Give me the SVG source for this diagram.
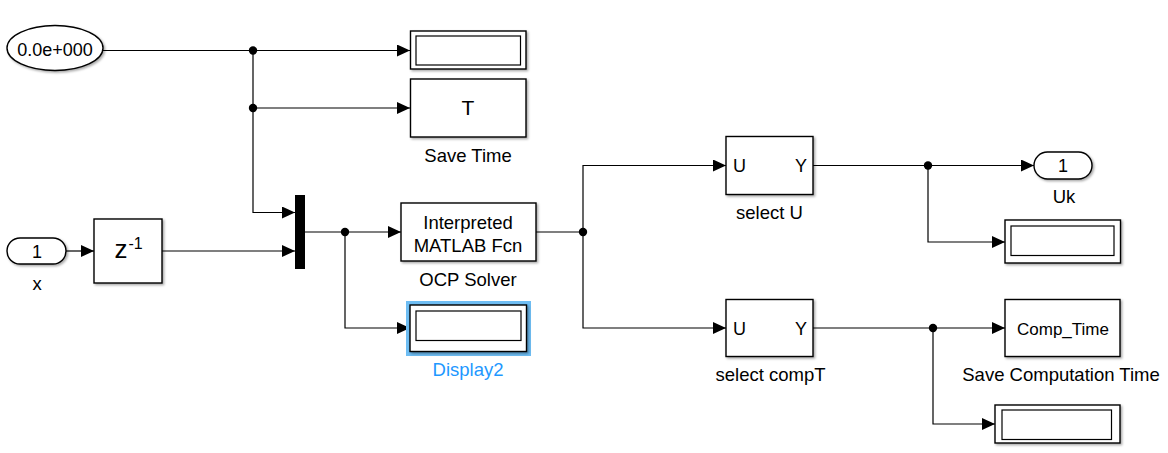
<svg xmlns="http://www.w3.org/2000/svg" width="1168" height="453" viewBox="0 0 1168 453">
<style>
.blk{fill:#fff;stroke:#000;stroke-width:1.4;filter:url(#sh)}
.in{fill:#fff;stroke:#000;stroke-width:1.2}
.w{fill:none;stroke:#000;stroke-width:1.2}
.t{font-family:"Liberation Sans",Arial,sans-serif;font-size:18.5px;fill:#000;text-anchor:middle}
.dot{fill:#000}
</style>
<defs>
<filter id="sh" x="-10%" y="-10%" width="130%" height="130%">
<feDropShadow dx="1.5" dy="1.5" stdDeviation="0.8" flood-color="#000" flood-opacity="0.35"/>
</filter>
<marker id="ar" markerUnits="userSpaceOnUse" markerWidth="14" markerHeight="14" refX="13" refY="6" orient="auto">
<path d="M0,0 L13,6 L0,12 z" fill="#000"/>
</marker>
</defs>

<g id="connectors">
<path class="w" d="M103,50.5 H410" marker-end="url(#ar)"/>
<path class="w" d="M253,50.5 V212.5 H295" marker-end="url(#ar)"/>
<path class="w" d="M253,108 H410" marker-end="url(#ar)"/>
<path class="w" d="M66,251 H94" marker-end="url(#ar)"/>
<path class="w" d="M162,251 H295" marker-end="url(#ar)"/>
<path class="w" d="M305,232 H401" marker-end="url(#ar)"/>
<path class="w" d="M345,232 V328 H410" marker-end="url(#ar)"/>
<path class="w" d="M536,232 H583"/>
<path class="w" d="M583,232 V165.5 H726" marker-end="url(#ar)"/>
<path class="w" d="M583,232 V328 H726" marker-end="url(#ar)"/>
<path class="w" d="M813,165.5 H1034" marker-end="url(#ar)"/>
<path class="w" d="M928,165.5 V242 H1005" marker-end="url(#ar)"/>
<path class="w" d="M813,328 H1005" marker-end="url(#ar)"/>
<path class="w" d="M933,328 V424 H995" marker-end="url(#ar)"/>
<circle class="dot" cx="253" cy="50.5" r="4.2"/>
<circle class="dot" cx="253" cy="108" r="4.2"/>
<circle class="dot" cx="345" cy="232" r="4.2"/>
<circle class="dot" cx="583" cy="232" r="4.2"/>
<circle class="dot" cx="928" cy="165.5" r="4.2"/>
<circle class="dot" cx="933" cy="328" r="4.2"/>
</g>

<g id="clock">
<ellipse class="blk" cx="55" cy="48" rx="48" ry="22.5"/>
<text class="t" x="55" y="56" style="font-size:18px">0.0e+000</text>
</g>

<g id="display1">
<rect class="blk" x="410.5" y="31" width="115.5" height="38"/>
<rect class="in" x="416" y="36" width="104.5" height="29"/>
</g>

<g id="saveTime">
<rect class="blk" x="410.5" y="79" width="115.5" height="58"/>
<text class="t" x="468" y="115" style="font-size:21px">T</text>
<text class="t" x="468" y="162">Save Time</text>
</g>

<g id="inportX">
<rect class="blk" x="7" y="238" width="59" height="26" rx="13" ry="13"/>
<text class="t" x="37" y="257.5" style="font-size:18px">1</text>
<text class="t" x="37" y="290">x</text>
</g>

<g id="unitDelay">
<rect class="blk" x="94" y="219" width="68" height="64"/>
<text class="t" x="121" y="257.5" style="font-size:26px">z</text>
<text class="t" x="135.5" y="249" style="font-size:16px">-1</text>
</g>

<g id="mux">
<rect x="295" y="195" width="10" height="74" fill="#000"/>
</g>

<g id="ocpSolver">
<rect class="blk" x="401" y="203" width="135" height="58"/>
<text class="t" x="468" y="228.5">Interpreted</text>
<text class="t" x="468" y="252">MATLAB Fcn</text>
<text class="t" x="468" y="286">OCP Solver</text>
</g>

<g id="display2">
<rect x="406" y="301" width="125" height="55" fill="#6ebdf3"/>
<rect class="blk" x="410" y="305" width="116.5" height="46.5"/>
<rect class="in" x="416" y="311" width="105" height="29.5"/>
<text class="t" x="468" y="376" style="fill:#1e98ff">Display2</text>
</g>

<g id="selectU">
<rect class="blk" x="726" y="136.5" width="87" height="58"/>
<text class="t" x="739.5" y="172" style="font-size:18px">U</text>
<text class="t" x="801" y="172" style="font-size:18px">Y</text>
<text class="t" x="769.5" y="219">select U</text>
</g>

<g id="outportUk">
<rect class="blk" x="1034" y="152" width="58" height="27" rx="13.5" ry="13.5"/>
<text class="t" x="1063" y="172" style="font-size:18px">1</text>
<text class="t" x="1064" y="203">Uk</text>
</g>

<g id="displayU">
<rect class="blk" x="1005" y="220" width="115.5" height="43"/>
<rect class="in" x="1011" y="226" width="103" height="29.5"/>
</g>

<g id="selectCompT">
<rect class="blk" x="726" y="299.5" width="87" height="57"/>
<text class="t" x="739.5" y="335" style="font-size:18px">U</text>
<text class="t" x="801" y="335" style="font-size:18px">Y</text>
<text class="t" x="770.5" y="381">select compT</text>
</g>

<g id="saveCompTime">
<rect class="blk" x="1005" y="299.5" width="115" height="57"/>
<text class="t" x="1063" y="334.5" style="font-size:17px">Comp_Time</text>
<text class="t" x="1061" y="381">Save Computation Time</text>
</g>

<g id="displayCompT">
<rect class="blk" x="995" y="405" width="125" height="38"/>
<rect class="in" x="1002" y="410" width="109.5" height="29.5"/>
</g>
</svg>
